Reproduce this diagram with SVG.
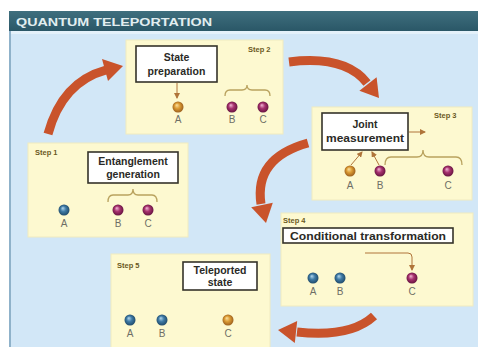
<svg xmlns="http://www.w3.org/2000/svg" width="478" height="347" viewBox="0 0 478 347">
<defs>
<linearGradient id="tb" x1="0" y1="0" x2="0" y2="1"><stop offset="0" stop-color="#3f6f7e"/><stop offset="1" stop-color="#2a5767"/></linearGradient>
<radialGradient id="gO" cx="0.5" cy="0.5" r="0.55" fx="0.38" fy="0.32"><stop offset="0" stop-color="#fbe1a0"/><stop offset="0.45" stop-color="#dc9c34"/><stop offset="1" stop-color="#94581a"/></radialGradient>
<radialGradient id="gP" cx="0.5" cy="0.5" r="0.55" fx="0.38" fy="0.32"><stop offset="0" stop-color="#f2b8d6"/><stop offset="0.45" stop-color="#a8326f"/><stop offset="1" stop-color="#5e103a"/></radialGradient>
<radialGradient id="gB" cx="0.5" cy="0.5" r="0.55" fx="0.38" fy="0.32"><stop offset="0" stop-color="#b4d8ee"/><stop offset="0.45" stop-color="#3f7ba6"/><stop offset="1" stop-color="#1c4563"/></radialGradient>
<marker id="sm" markerUnits="userSpaceOnUse" markerWidth="6" markerHeight="6" refX="5" refY="3" orient="auto"><path d="M0,0 L6,3 L0,6 z" fill="#b0753a"/></marker>
<style>
.panel{fill:#fdf9d0;stroke:#f0ebc0;stroke-width:1}
.lbox{fill:#ffffff;stroke:#35332a;stroke-width:1.6}
.lt{font-family:"Liberation Sans",Arial,sans-serif;font-weight:bold;fill:#2a2a26;text-anchor:middle}
.step{font-family:"Liberation Sans",Arial,sans-serif;font-weight:bold;font-size:7.5px;fill:#6b5a1e}
.abc{font-family:"Liberation Sans",Arial,sans-serif;font-size:10px;fill:#6e6e66;text-anchor:middle}
.brace{fill:none;stroke:#b9a25e;stroke-width:1.3}
.sa{fill:none;stroke:#b0753a;stroke-width:1;marker-end:url(#sm)}
.big{fill:none;stroke:#c9532b;stroke-width:9}
.head{fill:#c9532b}
</style>
</defs>
<rect x="0" y="0" width="478" height="347" fill="#ffffff"/>
<rect x="9" y="31" width="469" height="316" fill="#d2e7f7"/>
<rect x="9" y="31" width="469" height="3" fill="#e4f1fa"/>
<rect x="9" y="31" width="2" height="316" fill="#8fb2ca"/>
<g id="title">
<rect x="9" y="11" width="469" height="20" fill="url(#tb)"/>
<text x="16" y="26" font-family="'Liberation Sans',Arial,sans-serif" font-weight="bold" font-size="11.5" fill="#e2eef0" textLength="196" lengthAdjust="spacingAndGlyphs">QUANTUM TELEPORTATION</text>
</g>
<g id="step2">
<rect class="panel" x="126" y="40" width="157" height="94"/>
<text class="step" x="248" y="52">Step 2</text>
<rect class="lbox" x="136" y="46" width="81" height="36"/>
<text class="lt" x="176.5" y="61" font-size="10.5">State</text>
<text class="lt" x="176.5" y="75" font-size="10.5">preparation</text>
<path class="sa" d="M177,83 L177,98"/>
<circle cx="178" cy="107" r="5.5" fill="url(#gO)"/>
<circle cx="232" cy="107" r="5.5" fill="url(#gP)"/>
<circle cx="263" cy="107" r="5.5" fill="url(#gP)"/>
<path class="brace" d="M225,96 Q225,90 230,90 L242,90 Q247,90 247,85 Q247,90 252,90 L265,90 Q270,90 270,96"/>
<text class="abc" x="178" y="123">A</text>
<text class="abc" x="232" y="123">B</text>
<text class="abc" x="263" y="123">C</text>
</g>
<g id="step3">
<rect class="panel" x="312" y="107" width="160" height="93"/>
<text class="step" x="434" y="118">Step 3</text>
<rect class="lbox" x="322" y="113" width="86" height="37"/>
<text class="lt" x="365" y="128" font-size="10.5">Joint</text>
<text class="lt" x="365" y="142" font-size="10.5" textLength="78" lengthAdjust="spacingAndGlyphs">measurement</text>
<path class="sa" d="M409,132 L425,132"/>
<path class="sa" d="M351,165 L362,152"/>
<path class="sa" d="M379,165 L372,152"/>
<path class="brace" d="M385,165 Q385,157 391,157 L417,157 Q423,157 423,150 Q423,157 429,157 L456,157 Q462,157 462,165"/>
<circle cx="350" cy="171" r="5.5" fill="url(#gO)"/>
<circle cx="380" cy="171" r="5.5" fill="url(#gP)"/>
<circle cx="448" cy="171" r="5.5" fill="url(#gP)"/>
<text class="abc" x="350" y="189">A</text>
<text class="abc" x="380" y="189">B</text>
<text class="abc" x="448" y="189">C</text>
</g>
<g id="step1">
<rect class="panel" x="28" y="143" width="160" height="94"/>
<text class="step" x="35" y="155">Step 1</text>
<rect class="lbox" x="88" y="152" width="90" height="31"/>
<text class="lt" x="133" y="165" font-size="10.5">Entanglement</text>
<text class="lt" x="133" y="178" font-size="10.5">generation</text>
<path class="brace" d="M108,202 Q108,195 113,195 L128,195 Q133,195 133,189 Q133,195 138,195 L152,195 Q157,195 157,202"/>
<circle cx="64" cy="210" r="5.5" fill="url(#gB)"/>
<circle cx="118" cy="210" r="5.5" fill="url(#gP)"/>
<circle cx="148" cy="210" r="5.5" fill="url(#gP)"/>
<text class="abc" x="64" y="227">A</text>
<text class="abc" x="118" y="227">B</text>
<text class="abc" x="148" y="227">C</text>
</g>
<g id="step4">
<rect class="panel" x="281" y="213" width="192" height="93"/>
<text class="step" x="283" y="223">Step 4</text>
<rect class="lbox" x="283" y="228" width="170" height="15"/>
<text class="lt" x="368" y="239.5" font-size="11" textLength="156" lengthAdjust="spacingAndGlyphs">Conditional transformation</text>
<path class="sa" d="M365,253 L408,253 Q412,253 412,257 L412,270"/>
<circle cx="313" cy="278" r="5.5" fill="url(#gB)"/>
<circle cx="340" cy="278" r="5.5" fill="url(#gB)"/>
<circle cx="412" cy="278" r="5.5" fill="url(#gP)"/>
<text class="abc" x="313" y="295">A</text>
<text class="abc" x="340" y="295">B</text>
<text class="abc" x="412" y="295">C</text>
</g>
<g id="step5">
<rect class="panel" x="111" y="254" width="159" height="100"/>
<text class="step" x="117" y="268">Step 5</text>
<rect class="lbox" x="183" y="262" width="74" height="28"/>
<text class="lt" x="220" y="274" font-size="10.5">Teleported</text>
<text class="lt" x="220" y="286" font-size="10.5">state</text>
<circle cx="130" cy="320" r="5.5" fill="url(#gB)"/>
<circle cx="162" cy="320" r="5.5" fill="url(#gB)"/>
<circle cx="228" cy="320" r="5.5" fill="url(#gO)"/>
<text class="abc" x="130" y="337">A</text>
<text class="abc" x="162" y="337">B</text>
<text class="abc" x="228" y="337">C</text>
</g>
<g id="connectors">
<path class="big" d="M48,134 Q62,82 106,70"/>
<polygon class="head" points="123,66 108,81 102,59"/>
<path class="big" d="M289,62 Q345,55 367,83"/>
<polygon class="head" points="379,98 376.6,77.2 359.4,90.8"/>
<path class="big" d="M308,143 Q254,158 261,204"/>
<polygon class="head" points="266,223 272.8,202.7 251.2,207.3"/>
<path class="big" d="M374,316 Q350,338 297,332"/>
<polygon class="head" points="278,330 297.2,321.1 294.8,342.9"/>
</g>
</svg>
